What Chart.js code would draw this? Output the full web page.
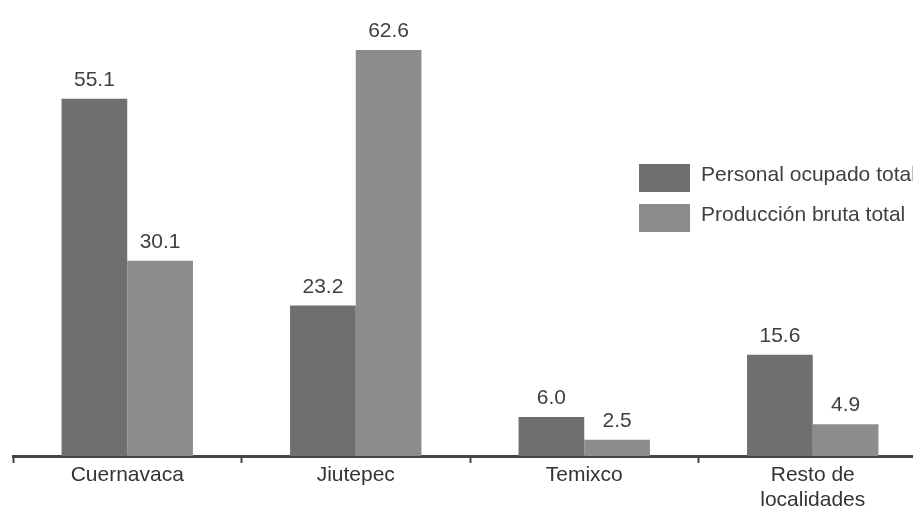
<!DOCTYPE html>
<html>
<head>
<meta charset="utf-8">
<script src="https://cdn.jsdelivr.net/npm/chart.js@4"></script>
<style>
  html, body { margin: 0; padding: 0; background: #fff; overflow: hidden; }
  #wrap { width: 930px; height: 507px; position: relative; }
</style>
</head>
<body>
<div id="wrap"><canvas id="chart"></canvas></div>
<script>
// categories and series (percent)
const places = ["Cuernavaca", "Jiutepec", "Temixco", ["Resto de", "localidades"]];
const personal = [55.1, 23.2, 6.0, 15.6];
const produccion = [30.1, 62.6, 2.5, 4.9];
const seriesNames = ["Personal ocupado total", "Producción bruta total"];
const colors = ["#6f6f6f", "#8c8c8c"];

const FONT = "'Liberation Sans', Arial, sans-serif";

// value labels above each bar
const barLabels = {
  id: "barLabels",
  afterDatasetsDraw(chart) {
    const ctx = chart.ctx;
    ctx.save();
    ctx.font = "21px " + FONT;
    ctx.fillStyle = "#404040";
    ctx.textAlign = "center";
    ctx.textBaseline = "alphabetic";
    chart.data.datasets.forEach((ds, i) => {
      chart.getDatasetMeta(i).data.forEach((bar, j) => {
        ctx.fillText(ds.data[j].toFixed(1), bar.x, bar.y - 13);
      });
    });
    ctx.restore();
  }
};

// legend boxes in the upper right
const sideLegend = {
  id: "sideLegend",
  afterDraw(chart) {
    const ctx = chart.ctx;
    ctx.save();
    ctx.font = "21px " + FONT;
    ctx.textBaseline = "middle";
    chart.data.datasets.forEach((ds, i) => {
      const top = 164 + i * 40;
      ctx.fillStyle = ds.backgroundColor;
      ctx.fillRect(639, top, 51, 28);
      ctx.fillStyle = "#404040";
      ctx.fillText(ds.label, 701, top + 11);
    });
    ctx.restore();
  }
};

new Chart(document.getElementById("chart"), {
  type: "bar",
  data: {
    labels: places,
    datasets: [
      { label: seriesNames[0], data: personal, backgroundColor: colors[0] },
      { label: seriesNames[1], data: produccion, backgroundColor: colors[1] }
    ]
  },
  options: {
    responsive: true,
    maintainAspectRatio: false,
    animation: false,
    layout: { padding: { top: 2, left: 13, right: 3, bottom: 0 } },
    datasets: { bar: { categoryPercentage: 0.575, barPercentage: 1.0 } },
    plugins: {
      legend: { display: false },
      tooltip: { enabled: false }
    },
    scales: {
      x: {
        afterFit(scale) { scale.height = 51; },
        grid: {
          offset: true,
          drawOnChartArea: false,
          drawTicks: true,
          tickLength: 7,
          tickWidth: 2,
          tickColor: "#444"
        },
        border: { display: true, color: "#444", width: 3 },
        ticks: {
          color: "#333",
          padding: 0,
          font: { family: FONT, size: 21, lineHeight: 1.17 }
        }
      },
      y: {
        display: false,
        min: 0,
        max: 70
      }
    }
  },
  plugins: [barLabels, sideLegend]
});
</script>
</body>
</html>
